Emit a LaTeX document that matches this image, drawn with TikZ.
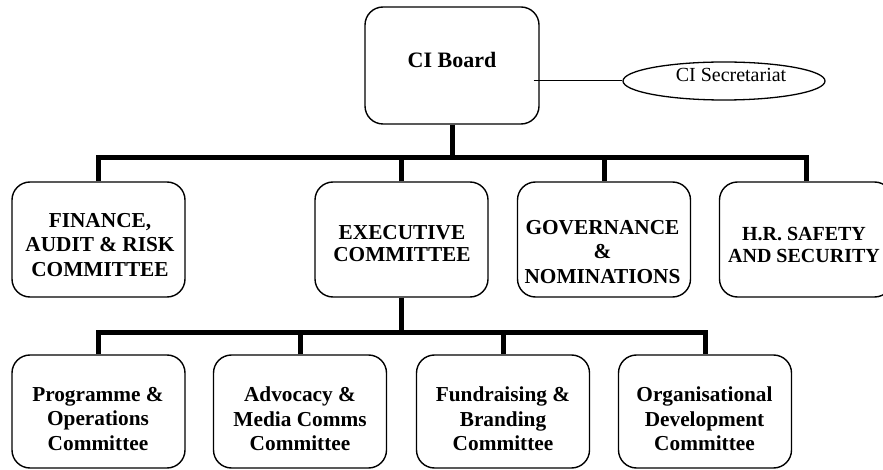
\documentclass[tikz,border=0pt]{standalone}
\usepackage{fontspec}
\setmainfont{Liberation Serif}
\usetikzlibrary{shapes.geometric}
\begin{document}
\begin{tikzpicture}[x=1pt,y=-1pt,
  box/.style={draw, line width=1.4pt, rounded corners=18pt, minimum width=173pt, minimum height=115pt, inner sep=0pt},
  lowbox/.style={box, minimum height=113pt},
  lbl/.style={font=\bfseries\fontsize{21.3}{24.5}\selectfont, align=center, inner sep=0pt},
  lbltight/.style={font=\bfseries\fontsize{21.3}{22}\selectfont, align=center, inner sep=0pt},
  lblsmall/.style={font=\bfseries\fontsize{20}{22}\selectfont, align=center, inner sep=0pt},
  conn/.style={line width=5pt},
  thin/.style={line width=1pt}
]
\useasboundingbox (0,0) rectangle (883,470);
\clip (0,0) rectangle (883,470);

% top
\node[box, minimum width=174pt, minimum height=117pt] (board) at (452,65.5) {};
\node[font=\bfseries\fontsize{22}{26}\selectfont, inner sep=0pt] (boardtxt) at (452,60) {CI Board};
\node[draw, ellipse, line width=1.3pt, minimum width=202pt, minimum height=38pt, inner sep=0pt] (sec) at (724,81) {};
\node[font=\fontsize{20}{24}\selectfont, inner sep=0pt] (sectxt) at (731,75) {CI Secretariat};

% level 1
\node[box] (fin)  at (98.5,239.5) {};
\node[box] (exec) at (401.5,239.5) {};
\node[box] (gov)  at (604,239.5) {};
\node[box] (hr)   at (806,239.5) {};
\node[lbl] (fintxt)  at (100,245) {FINANCE,\\AUDIT \& RISK\\COMMITTEE};
\node[lbltight] (exectxt) at (402,243.5) {EXECUTIVE\\COMMITTEE};
\node[lbl] (govtxt)  at (602.5,252) {GOVERNANCE\\\&\\NOMINATIONS};
\node[lblsmall] (hrtxt)   at (804,245) {H.R. SAFETY\\AND SECURITY};

% level 2
\node[lowbox] (p1) at (98.5,411.5) {};
\node[lowbox] (p2) at (300,411.5) {};
\node[lowbox] (p3) at (503,411.5) {};
\node[lowbox] (p4) at (705,411.5) {};
\node[lbl] (p1txt) at (98,419) {Programme \&\\Operations\\Committee};
\node[lbl] (p2txt) at (300,419) {Advocacy \&\\Media Comms\\Committee};
\node[lbl] (p3txt) at (503,419) {Fundraising \&\\Branding\\Committee};
\node[lbl] (p4txt) at (704.5,419) {Organisational\\Development\\Committee};

% connectors
\coordinate (l1) at (452,158);
\coordinate (l2) at (403,332);
\draw[conn] (board.south) -- (board.south |- l1);
\draw[conn] (fin.north) |- (hr.north |- l1) -- (hr.north);
\draw[conn] (exec.north) -- (exec.north |- l1);
\draw[conn] (gov.north) -- (gov.north |- l1);
\draw[conn] (exec.south) -- (exec.south |- l2);
\draw[conn] (p1.north) |- (p4.north |- l2) -- (p4.north);
\draw[conn] (p2.north) -- (p2.north |- l2);
\draw[conn] (p3.north) -- (p3.north |- l2);
\draw[thin] ([xshift=-6pt]board.east |- sec.west) -- (sec.west);
\end{tikzpicture}
\end{document}
